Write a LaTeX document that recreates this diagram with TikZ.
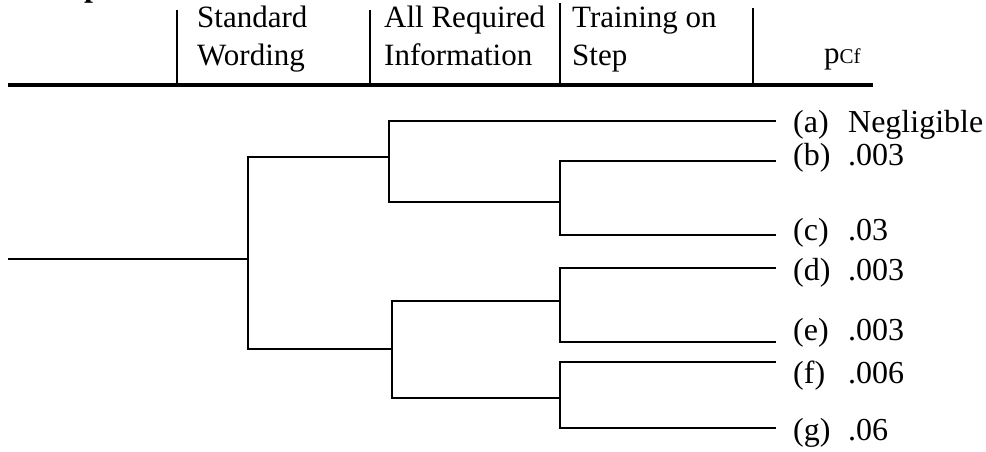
\documentclass[tikz,border=0pt]{standalone}
\usepackage{fontspec}
\setmainfont{Liberation Serif}
\begin{document}
\begin{tikzpicture}[x=1pt,y=-1pt,
  txt/.style={anchor=base west, inner sep=0pt, font=\fontsize{32}{38}\selectfont},
  head/.style={txt, font=\fontsize{31}{37}\selectfont},
  branch/.style={line width=2.8pt, line join=miter},
  rule/.style={line width=3.6pt},
  divider/.style={line width=1.8pt}]
\useasboundingbox (0,0) rectangle (986,452);

% tail of a bold heading above the table
\node[txt, font=\fontsize{32}{38}\selectfont\bfseries] (frag) at (84,-3) {p};

% column headings
\node[head] (h1a) at (197,28) {Standard};
\node[head] (h1b) at (197,66) {Wording};
\node[head] (h2a) at (384,28) {All Required};
\node[head] (h2b) at (384,66) {Information};
\node[head] (h3a) at (572,28) {Training on};
\node[head] (h3b) at (572,66) {Step};
\node[head] (h4) at (824,64) {p{\fontsize{21}{21}\selectfont Cf}};

% heading rule and column dividers
\coordinate (rl) at (8,85);
\coordinate (rr) at (873,85);
\draw[rule] (rl) -- (rr);
\coordinate (d1t) at (177,10);  \coordinate (d1b) at (177,85);
\coordinate (d2t) at (370,10);  \coordinate (d2b) at (370,85);
\coordinate (d3t) at (560,3);   \coordinate (d3b) at (560,85);
\coordinate (d4t) at (753,8);   \coordinate (d4b) at (753,85);
\draw[divider] (d1t) -- (d1b);
\draw[divider] (d2t) -- (d2b);
\draw[divider] (d3t) -- (d3b);
\draw[divider] (d4t) -- (d4b);

% branch points
\coordinate (s)  at (8,259);
\coordinate (k1) at (248,259);
\coordinate (k2) at (389,157);
\coordinate (k3) at (392,349);
\coordinate (k4) at (560,202);
\coordinate (k5) at (560,301);
\coordinate (k6) at (560,398);
% ends of the outcome lines
\coordinate (ea) at (776,121);
\coordinate (eb) at (776,161);
\coordinate (ec) at (776,235);
\coordinate (ed) at (776,268);
\coordinate (ee) at (776,342);
\coordinate (ef) at (776,362);
\coordinate (eg) at (776,428);

% event tree
\draw[branch] (s) -- (k1);
\draw[branch] (k2) -| (k1) |- (k3);
\draw[branch] (ea) -| (k2) |- (k4);
\draw[branch] (eb) -| (k4) |- (ec);
\draw[branch] (k5) -| (k3) |- (k6);
\draw[branch] (ed) -| (k5) |- (ee);
\draw[branch] (ef) -| (k6) |- (eg);

% outcomes
\newcommand{\outc}[2]{\makebox[55pt][l]{#1}#2}
\node[txt] (oa) at (793,132) {\outc{(a)}{Negligible}};
\node[txt] (ob) at (793,165) {\outc{(b)}{.003}};
\node[txt] (oc) at (793,240) {\outc{(c)}{.03}};
\node[txt] (od) at (793,280) {\outc{(d)}{.003}};
\node[txt] (oe) at (793,340) {\outc{(e)}{.003}};
\node[txt] (of) at (793,383) {\outc{(f)}{.006}};
\node[txt] (og) at (793,440) {\outc{(g)}{.06}};
\end{tikzpicture}
\end{document}
